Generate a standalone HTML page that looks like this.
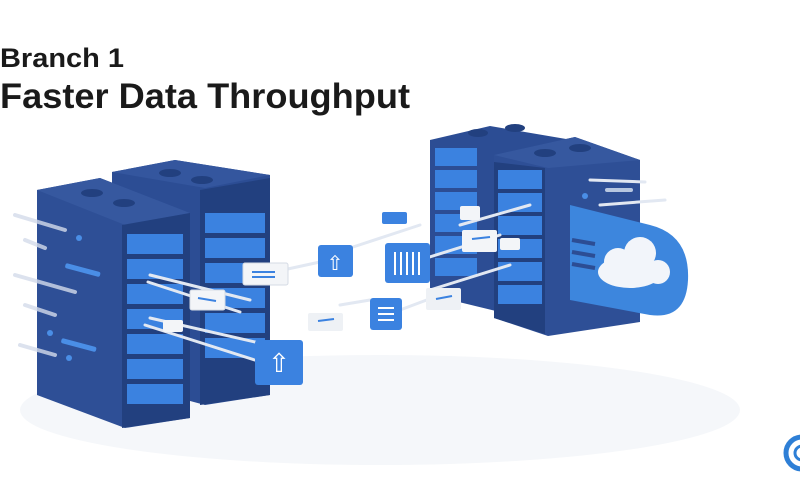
<!DOCTYPE html>
<html><head><meta charset="utf-8"><style>
html,body{margin:0;padding:0;background:#fff;}
svg{display:block;}
</style></head><body>
<svg width="800" height="500" viewBox="0 0 800 500" xmlns="http://www.w3.org/2000/svg" font-family="Liberation Sans, sans-serif">
<rect width="800" height="500" fill="#fff"/>
<ellipse cx="380" cy="410" rx="360" ry="55" fill="#f5f7fa"/>
<text x="0" y="67" font-size="27" font-weight="bold" fill="#1a1a1a" textLength="124" lengthAdjust="spacingAndGlyphs">Branch 1</text>
<text x="0" y="108" font-size="35" font-weight="bold" fill="#1a1a1a" textLength="410" lengthAdjust="spacingAndGlyphs">Faster Data Throughput</text>

<!-- back-left server -->
<g>
<polygon points="112,172 175,160 270,175 270,395 205,405 112,380" fill="#2c4d94"/>
<polygon points="112,172 175,160 270,175 205,188" fill="#34569e"/>
<ellipse cx="170" cy="173" rx="11" ry="4" fill="#22407f"/>
<ellipse cx="202" cy="180" rx="11" ry="4" fill="#22407f"/>
<polygon points="200,190 270,178 270,395 200,405" fill="#22407f"/>
<g fill="#3b82e0">
<rect x="205" y="213" width="60" height="20"/><rect x="205" y="238" width="60" height="20"/>
<rect x="205" y="263" width="60" height="20"/><rect x="205" y="288" width="60" height="20"/>
<rect x="205" y="313" width="60" height="20"/><rect x="205" y="338" width="60" height="20"/>
</g>
</g>
<!-- front-left server -->
<g>
<polygon points="37,190 100,178 190,213 190,418 125,428 37,395" fill="#2e4f96"/>
<polygon points="37,190 100,178 190,213 125,225" fill="#36589f"/>
<ellipse cx="92" cy="193" rx="11" ry="4" fill="#22407f"/>
<ellipse cx="124" cy="203" rx="11" ry="4" fill="#22407f"/>
<polygon points="122,225 190,213 190,418 122,428" fill="#22407f"/>
<g fill="#3b82e0">
<rect x="127" y="234" width="56" height="20"/><rect x="127" y="259" width="56" height="20"/>
<rect x="127" y="284" width="56" height="20"/><rect x="127" y="309" width="56" height="20"/>
<rect x="127" y="334" width="56" height="20"/><rect x="127" y="359" width="56" height="20"/>
<rect x="127" y="384" width="56" height="20"/>
</g>
<circle cx="79" cy="238" r="3" fill="#4a8ee6"/><circle cx="50" cy="333" r="3" fill="#4a8ee6"/><circle cx="69" cy="358" r="3" fill="#4a8ee6"/>
<rect x="66" y="263" width="36" height="5" rx="2" fill="#4a8ee6" transform="rotate(15 66 263)"/>
<rect x="62" y="338" width="36" height="5" rx="2" fill="#4a8ee6" transform="rotate(15 62 338)"/>
</g>
<!-- streaks left -->
<g stroke="#d4dceb" stroke-width="4" stroke-linecap="round" opacity="0.8">
<line x1="15" y1="215" x2="65" y2="230"/><line x1="25" y1="240" x2="45" y2="248"/>
<line x1="15" y1="275" x2="75" y2="292"/><line x1="25" y1="305" x2="55" y2="315"/>
<line x1="20" y1="345" x2="55" y2="355"/>
</g>
<!-- right back server -->
<g>
<polygon points="430,140 490,126 572,140 572,300 500,312 430,295" fill="#2c4d94"/>
<ellipse cx="478" cy="133" rx="10" ry="4" fill="#22407f"/><ellipse cx="515" cy="128" rx="10" ry="4" fill="#22407f"/>
<g fill="#3b82e0">
<rect x="435" y="148" width="42" height="18"/><rect x="435" y="170" width="42" height="18"/>
<rect x="435" y="192" width="42" height="18"/><rect x="435" y="214" width="42" height="18"/>
<rect x="435" y="236" width="42" height="18"/><rect x="435" y="258" width="42" height="18"/>
</g>
</g>
<!-- right front server -->
<g>
<polygon points="494,155 575,137 640,160 640,322 548,336 494,318" fill="#2e4f96"/>
<polygon points="494,155 575,137 640,160 548,168" fill="#36589f"/>
<ellipse cx="545" cy="153" rx="11" ry="4" fill="#22407f"/><ellipse cx="580" cy="148" rx="11" ry="4" fill="#22407f"/>
<polygon points="494,162 545,168 545,334 494,318" fill="#22407f"/>
<g fill="#3b82e0">
<rect x="498" y="170" width="44" height="19"/><rect x="498" y="193" width="44" height="19"/>
<rect x="498" y="216" width="44" height="19"/><rect x="498" y="239" width="44" height="19"/>
<rect x="498" y="262" width="44" height="19"/><rect x="498" y="285" width="44" height="19"/>
</g>
<circle cx="585" cy="196" r="3" fill="#4a8ee6"/>
<rect x="605" y="188" width="28" height="4" rx="2" fill="#b7c7e0"/>
</g>
<!-- cloud panel -->
<path d="M570,205 L650,225 Q690,235 688,280 Q686,320 650,315 L570,300 Z" fill="#3d86dd"/>
<g fill="#f2f5fa">
<ellipse cx="630" cy="272" rx="32" ry="16"/><circle cx="618" cy="262" r="14"/><circle cx="640" cy="253" r="16"/><circle cx="658" cy="272" r="12"/>
</g>
<g stroke="#2c4d94" stroke-width="4"><line x1="572" y1="240" x2="595" y2="244"/><line x1="572" y1="252" x2="595" y2="256"/><line x1="572" y1="264" x2="595" y2="268"/></g>
<!-- data streaks center -->
<g stroke="#e2e8f2" stroke-width="3" stroke-linecap="round">
<line x1="150" y1="275" x2="250" y2="300"/><line x1="148" y1="282" x2="240" y2="312"/>
<line x1="150" y1="318" x2="290" y2="350"/><line x1="145" y1="325" x2="280" y2="368"/>
<line x1="260" y1="275" x2="320" y2="262"/><line x1="350" y1="248" x2="420" y2="225"/>
<line x1="420" y1="260" x2="500" y2="235"/><line x1="430" y1="290" x2="510" y2="265"/>
<line x1="460" y1="225" x2="530" y2="205"/><line x1="340" y1="305" x2="370" y2="300"/>
<line x1="400" y1="310" x2="440" y2="295"/><line x1="590" y1="180" x2="645" y2="182"/><line x1="600" y1="205" x2="665" y2="200"/>
</g>
<!-- packets -->
<g>
<rect x="243" y="263" width="45" height="22" rx="2" fill="#f3f5f8" stroke="#d5dbe5"/>
<line x1="252" y1="272" x2="275" y2="272" stroke="#3b82e0" stroke-width="2"/><line x1="252" y1="277" x2="275" y2="277" stroke="#3b82e0" stroke-width="2"/>
<rect x="190" y="290" width="35" height="20" rx="2" fill="#f3f5f8" stroke="#d5dbe5"/>
<line x1="198" y1="298" x2="216" y2="301" stroke="#3b82e0" stroke-width="2"/>
<rect x="163" y="320" width="20" height="12" rx="2" fill="#f3f5f8"/>
<rect x="318" y="245" width="35" height="32" rx="3" fill="#3b82e0"/>
<text x="335" y="270" font-size="20" fill="#fff" text-anchor="middle">⇧</text>
<rect x="255" y="340" width="48" height="45" rx="3" fill="#3b82e0"/>
<text x="279" y="372" font-size="26" fill="#fff" text-anchor="middle">⇧</text>
<rect x="385" y="243" width="45" height="40" rx="3" fill="#3b82e0"/>
<g stroke="#fff" stroke-width="2"><line x1="395" y1="252" x2="395" y2="275"/><line x1="401" y1="252" x2="401" y2="275"/><line x1="407" y1="252" x2="407" y2="275"/><line x1="413" y1="252" x2="413" y2="275"/><line x1="419" y1="252" x2="419" y2="275"/></g>
<rect x="370" y="298" width="32" height="32" rx="3" fill="#3b82e0"/>
<g stroke="#fff" stroke-width="2"><line x1="378" y1="308" x2="394" y2="308"/><line x1="378" y1="314" x2="394" y2="314"/><line x1="378" y1="320" x2="394" y2="320"/></g>
<rect x="382" y="212" width="25" height="12" rx="2" fill="#3b82e0"/>
<rect x="308" y="313" width="35" height="18" rx="2" fill="#eef1f5"/>
<line x1="318" y1="321" x2="334" y2="319" stroke="#3b82e0" stroke-width="2"/>
<rect x="426" y="288" width="35" height="22" rx="2" fill="#eef1f5"/>
<line x1="436" y1="299" x2="452" y2="296" stroke="#3b82e0" stroke-width="2"/>
<rect x="460" y="206" width="20" height="14" rx="2" fill="#f3f5f8"/>
<rect x="462" y="230" width="35" height="22" rx="2" fill="#f3f5f8"/>
<line x1="472" y1="239" x2="490" y2="237" stroke="#3b82e0" stroke-width="2"/>
<rect x="500" y="238" width="20" height="12" rx="2" fill="#f3f5f8"/>
</g>
<!-- logo -->
<circle cx="802" cy="453" r="16" fill="none" stroke="#2e7fd6" stroke-width="5"/>
<circle cx="802" cy="453" r="7" fill="none" stroke="#2e7fd6" stroke-width="3"/>
</svg>
</body></html>
